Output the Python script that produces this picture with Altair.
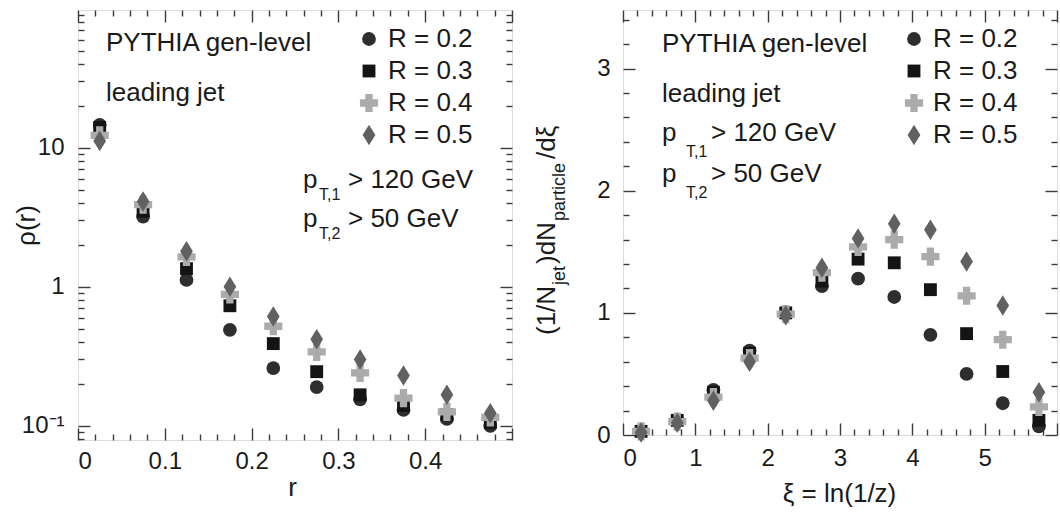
import altair as alt
import pandas as pd

FONT = "Liberation Sans"
INK = "#1a1a1a"
FRAME = "#3a3a3a"

# ---------------- series definitions ----------------
SERIES = ["R = 0.2", "R = 0.3", "R = 0.4", "R = 0.5"]
SHAPES = ["circle", "square", "cross", "M0,-1L0.62,0L0,1L-0.62,0Z"]
COLORS = ["#2e2e2e", "#141414", "#ababab", "#616161"]
SIZES = [190, 165, 330, 420]

# ---------------- left panel: jet shape rho(r) ----------------
R_CENTERS = [0.025, 0.075, 0.125, 0.175, 0.225, 0.275, 0.325, 0.375, 0.425, 0.475]
RHO_R02 = [14.6, 3.2, 1.12, 0.49, 0.26, 0.19, 0.155, 0.13, 0.112, 0.100]
RHO_R03 = [14.0, 3.5, 1.35, 0.73, 0.39, 0.245, 0.167, 0.14, 0.120, 0.105]
RHO_R04 = [12.3, 3.9, 1.64, 0.88, 0.52, 0.34, 0.24, 0.158, 0.126, 0.115]
RHO_R05 = [11.2, 4.1, 1.80, 1.00, 0.61, 0.42, 0.30, 0.23, 0.167, 0.123]

# ---------------- right panel: fragmentation function ----------------
XI_CENTERS = [0.25, 0.75, 1.25, 1.75, 2.25, 2.75, 3.25, 3.75, 4.25, 4.75, 5.25, 5.75]
FF_R02 = [0.03, 0.12, 0.37, 0.69, 1.00, 1.22, 1.28, 1.13, 0.82, 0.50, 0.26, 0.07]
FF_R03 = [0.03, 0.12, 0.35, 0.67, 1.00, 1.26, 1.44, 1.41, 1.19, 0.83, 0.52, 0.12]
FF_R04 = [0.03, 0.11, 0.31, 0.63, 0.99, 1.33, 1.54, 1.60, 1.46, 1.14, 0.78, 0.23]
FF_R05 = [0.02, 0.10, 0.28, 0.60, 0.98, 1.37, 1.61, 1.73, 1.68, 1.42, 1.06, 0.35]

# ---------------- axis ticks / labels ----------------
LX_LABELS = [0, 0.1, 0.2, 0.3, 0.4]
LX_MAJOR = [0, 0.1, 0.2, 0.3, 0.4, 0.5]
LX_MINOR = [round(0.02 * i, 2) for i in range(26) if i % 5]
LY_LABELS = [0.1, 1, 10]
LY_MAJOR = [0.1, 1, 10]
LY_MINOR = [0.08, 0.09] + [k / 10 for k in range(2, 10)] + list(range(2, 10)) + [10 * k for k in range(2, 10)]

RX_LABELS = [0, 1, 2, 3, 4, 5]
RX_MAJOR = [0, 1, 2, 3, 4, 5, 6]
RX_MINOR = [round(0.2 * i, 1) for i in range(31) if i % 5]
RY_LABELS = [0, 1, 2, 3]
RY_MAJOR = [0, 1, 2, 3]
RY_MINOR = [round(0.2 * i, 1) for i in range(18) if i % 5]

# ---------------- annotation texts ----------------
HEADER = ["PYTHIA gen-level", "leading jet"]
CUT_SUB = ["T,1", "T,2"]
CUT_TXT = ["> 120 GeV", "> 50 GeV"]
RY_TITLE_MAIN = ["(1/N", ")dN", "/dξ"]
RY_TITLE_SUB = ["jet", "particle"]


def long_df(xs, lists, xname, yname):
    rows = []
    for name, vals in zip(SERIES, lists):
        for x, v in zip(xs, vals):
            rows.append({xname: x, yname: v, "series": name})
    return pd.DataFrame(rows)


def tick_axis(orient, values, size):
    return alt.Axis(orient=orient, values=values, tickSize=size, offset=-size,
                    labels=False, domain=False, grid=False, title=None,
                    tickColor=FRAME, tickWidth=1.4)


def legend():
    return alt.Legend(orient="none", legendX=278, legendY=16, title=None,
                      labelFontSize=26, labelFont=FONT, labelColor=INK,
                      symbolSize=280, symbolStrokeWidth=0, rowPadding=6,
                      labelOffset=6, padding=0, labelLimit=300)


def text(txt, x, y, size=26, angle=0, dx=0, dy=0):
    kw = dict(align="left", baseline="alphabetic", fontSize=size, font=FONT,
              color=INK, dx=dx, dy=dy)
    if angle:
        kw["angle"] = angle
    return alt.Chart(pd.DataFrame({"t": [txt]})).mark_text(**kw).encode(
        x=alt.value(x), y=alt.value(y), text="t:N")


def panel(df, xf, yf, xscale, yscale, w, h, xaxis, yaxis,
          xmaj, xmin, ymaj, ymin, extras):
    layers = []
    for sz, xv, yv in [(12, xmaj, ymaj), (6, xmin, ymin)]:
        for xo, yo in [("bottom", "left"), ("top", "right")]:
            layers.append(alt.Chart(df).mark_point(opacity=0).encode(
                x=alt.X(f"{xf}:Q", scale=xscale, axis=tick_axis(xo, xv, sz)),
                y=alt.Y(f"{yf}:Q", scale=yscale, axis=tick_axis(yo, yv, sz)),
            ))
    pts = alt.Chart(df).mark_point(filled=True, opacity=1, strokeWidth=0).encode(
        x=alt.X(f"{xf}:Q", scale=xscale, axis=xaxis),
        y=alt.Y(f"{yf}:Q", scale=yscale, axis=yaxis),
        color=alt.Color("series:N", scale=alt.Scale(domain=SERIES, range=COLORS), legend=legend()),
        shape=alt.Shape("series:N", scale=alt.Scale(domain=SERIES, range=SHAPES), legend=legend()),
        size=alt.Size("series:N", scale=alt.Scale(type="ordinal", domain=SERIES, range=SIZES), legend=None),
    )
    layers.append(pts)
    layers.extend(extras)
    return alt.layer(*layers).resolve_axis(x="independent", y="independent").properties(width=w, height=h)


LW, LH = 434, 430
RW, RH = 434, 425

left_df = long_df(R_CENTERS, [RHO_R02, RHO_R03, RHO_R04, RHO_R05], "r", "rho")
right_df = long_df(XI_CENTERS, [FF_R02, FF_R03, FF_R04, FF_R05], "xi", "ff")

lxs = alt.Scale(domain=[0, 0.5], nice=False, zero=False)
lys = alt.Scale(type="log", domain=[0.079, 98], nice=False)
rxs = alt.Scale(domain=[0, 6], nice=False, zero=False)
rys = alt.Scale(domain=[0, 3.48], nice=False, zero=False)

lx_axis = alt.Axis(orient="bottom", values=LX_LABELS, format="~g", ticks=False, tickSize=0,
                   domain=False, grid=False, labelPadding=9, labelFontSize=24, labelFont=FONT,
                   labelColor=INK, title="r", titleFontSize=26, titleFont=FONT,
                   titleFontWeight="normal", titleColor=INK, titleX=214, titleY=55,
                   titleBaseline="alphabetic", titleAlign="center")
ly_axis = alt.Axis(orient="left", values=LY_LABELS, ticks=False, tickSize=0, domain=False, grid=False,
                   labelExpr="datum.value < 0.5 ? '10⁻¹' : (datum.value < 5 ? '1' : '10')",
                   labelPadding=14, labelFontSize=24, labelFont=FONT, labelColor=INK,
                   title="ρ(r)", titleFontSize=26, titleFont=FONT, titleFontWeight="normal",
                   titleColor=INK, titleX=-44, titleY=215, titleAngle=270,
                   titleBaseline="alphabetic", titleAlign="center")

rx_axis = alt.Axis(orient="bottom", values=RX_LABELS, format="~g", ticks=False, tickSize=0,
                   domain=False, grid=False, labelPadding=11, labelFontSize=24, labelFont=FONT,
                   labelColor=INK, title="ξ = ln(1/z)", titleFontSize=26, titleFont=FONT,
                   titleFontWeight="normal", titleColor=INK, titleX=216, titleY=66,
                   titleBaseline="alphabetic", titleAlign="center")
ry_axis = alt.Axis(orient="left", values=RY_LABELS, format="~g", ticks=False, tickSize=0,
                   domain=False, grid=False, labelPadding=13, labelFontSize=24, labelFont=FONT,
                   labelColor=INK, title=None)

left_extras = [
    text(HEADER[0], 28, 41),
    text(HEADER[1], 28, 91),
    text("p", 225, 178), text(CUT_SUB[0], 241, 190, size=16), text(CUT_TXT[0], 270, 178),
    text("p", 225, 217), text(CUT_SUB[1], 241, 229, size=16), text(CUT_TXT[1], 270, 217),
]

# rotated y title of right panel, pieces placed along the text direction
ax, ay = -68, 325
right_extras = [
    text(HEADER[0], 39, 42),
    text(HEADER[1], 39, 92),
    text("p", 39, 131), text(CUT_SUB[0], 63, 147, size=16), text(CUT_TXT[0], 88, 131),
    text("p", 39, 172), text(CUT_SUB[1], 63, 188, size=16), text(CUT_TXT[1], 88, 172),
    text(RY_TITLE_MAIN[0], ax, ay, angle=270, dx=0),
    text(RY_TITLE_SUB[0], ax, ay, size=18, angle=270, dx=50, dy=10),
    text(RY_TITLE_MAIN[1], ax, ay, angle=270, dx=71),
    text(RY_TITLE_SUB[1], ax, ay, size=18, angle=270, dx=114, dy=10),
    text(RY_TITLE_MAIN[2], ax, ay, angle=270, dx=176),
]

left = panel(left_df, "r", "rho", lxs, lys, LW, LH, lx_axis, ly_axis,
             LX_MAJOR, LX_MINOR, LY_MAJOR, LY_MINOR, left_extras)
right = panel(right_df, "xi", "ff", rxs, rys, RW, RH, rx_axis, ry_axis,
              RX_MAJOR, RX_MINOR, RY_MAJOR, RY_MINOR, right_extras)

chart = alt.hconcat(left, right, spacing=111, bounds="flush").resolve_scale(
    color="independent", shape="independent", size="independent"
).resolve_legend(color="independent", shape="independent").properties(
    padding={"left": 12, "top": 8, "right": 0, "bottom": 0},
    background="white",
).configure_view(stroke=FRAME, strokeWidth=1.5).configure(font=FONT)

chart.save("out.html", embed_options={"renderer": "svg", "actions": False})
